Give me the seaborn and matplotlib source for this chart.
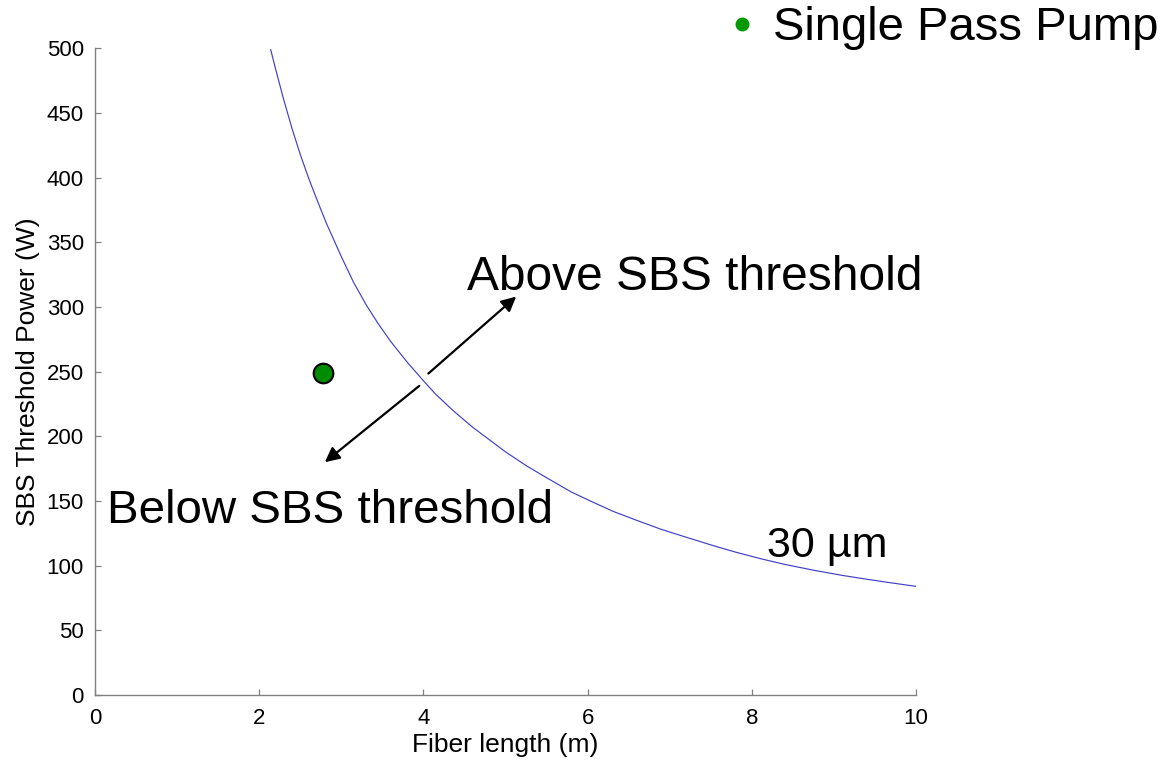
import matplotlib
matplotlib.use("Agg")
import matplotlib.pyplot as plt
from matplotlib.lines import Line2D
import seaborn as sns
import pandas as pd

# ---- data ----
fiber_length = [2.14, 2.20, 2.30, 2.40, 2.50, 2.60, 2.70, 2.82, 3.00, 3.15,
                3.30, 3.45, 3.60, 3.80, 4.00, 4.15, 4.36, 4.60, 4.80, 5.00,
                5.26, 5.50, 5.80, 6.00, 6.31, 6.60, 6.90, 7.20, 7.53, 7.80,
                8.10, 8.40, 8.75, 9.10, 9.40, 9.70, 10.0]
threshold_power = [499, 484, 460, 438, 418, 400, 383.5, 364.5, 339, 319,
                   302, 287, 273.5, 257.5, 243, 232.5, 220, 207, 197.5, 188,
                   177, 168, 157, 151, 142, 135, 128, 122, 115.5, 110.5,
                   105.5, 101, 96.5, 92.5, 89.5, 86.7, 84]
pump_length = [2.78]
pump_power = [249]
legend_label = "Single Pass Pump"
curve_label = "30 µm"
xticks = [0, 2, 4, 6, 8, 10]
yticks = [0, 50, 100, 150, 200, 250, 300, 350, 400, 450, 500]

sns.set_style("ticks")
plt.rcParams["font.family"] = ["Liberation Sans", "DejaVu Sans"]
plt.rcParams["text.color"] = "black"
plt.rcParams["axes.labelcolor"] = "black"

fig = plt.figure(figsize=(11.65, 7.61), dpi=100)
ax = fig.add_axes([0.0815, 0.0867, 0.7048, 0.8499])

curve = pd.DataFrame({"L": fiber_length, "P": threshold_power})
sns.lineplot(data=curve, x="L", y="P", ax=ax, color="#4040c8", lw=0.85,
             sort=False, estimator=None)

pump = pd.DataFrame({"L": pump_length, "P": pump_power})
sns.scatterplot(data=pump, x="L", y="P", ax=ax, color="#008c00", s=200,
                edgecolor="black", linewidth=1.5, zorder=5)

ax.set_xlim(0, 10)
ax.set_ylim(0, 500)
ax.set_xticks(xticks)
ax.set_yticks(yticks)
ax.set_xlabel("Fiber length (m)", fontsize=19, labelpad=3, color="black")
ax.set_ylabel("SBS Threshold Power (W)", fontsize=19, labelpad=5, color="black")

for side in ["top", "right"]:
    ax.spines[side].set_visible(False)
for side in ["left", "bottom"]:
    ax.spines[side].set_color("#808080")
    ax.spines[side].set_linewidth(1.0)
ax.tick_params(direction="in", length=4.5, width=0.9, color="#808080",
               labelcolor="black", labelsize=16)
ax.tick_params(axis="x", pad=9)
ax.tick_params(axis="y", pad=8)

# annotations
ax.text(4.53, 313, "Above SBS threshold", fontsize=34.5, va="baseline",
        ha="left", color="black")
ax.text(0.146, 133, "Below SBS threshold", fontsize=34.2, va="baseline",
        ha="left", color="black")
ax.text(8.18, 107, curve_label, fontsize=31, va="baseline", ha="left",
        color="black")

arrow_kw = dict(arrowstyle="-|>", color="black", lw=1.6, mutation_scale=22,
                shrinkA=0, shrinkB=0)
ax.annotate("", xy=(5.13, 308), xytext=(4.06, 248.5), arrowprops=arrow_kw)
ax.annotate("", xy=(2.80, 180), xytext=(3.95, 239), arrowprops=arrow_kw)

handle = Line2D([], [], marker="o", linestyle="none", color="#009900",
                markersize=10, markeredgewidth=0)
leg = fig.legend(handles=[handle], labels=[legend_label], loc="center left",
                 bbox_to_anchor=(0.6249, 0.963), frameon=False, fontsize=34,
                 handlelength=0.6, handletextpad=0.36, borderpad=0,
                 borderaxespad=0)
for t in leg.get_texts():
    t.set_color("black")

fig.savefig("out.png", dpi=100, facecolor="white")
